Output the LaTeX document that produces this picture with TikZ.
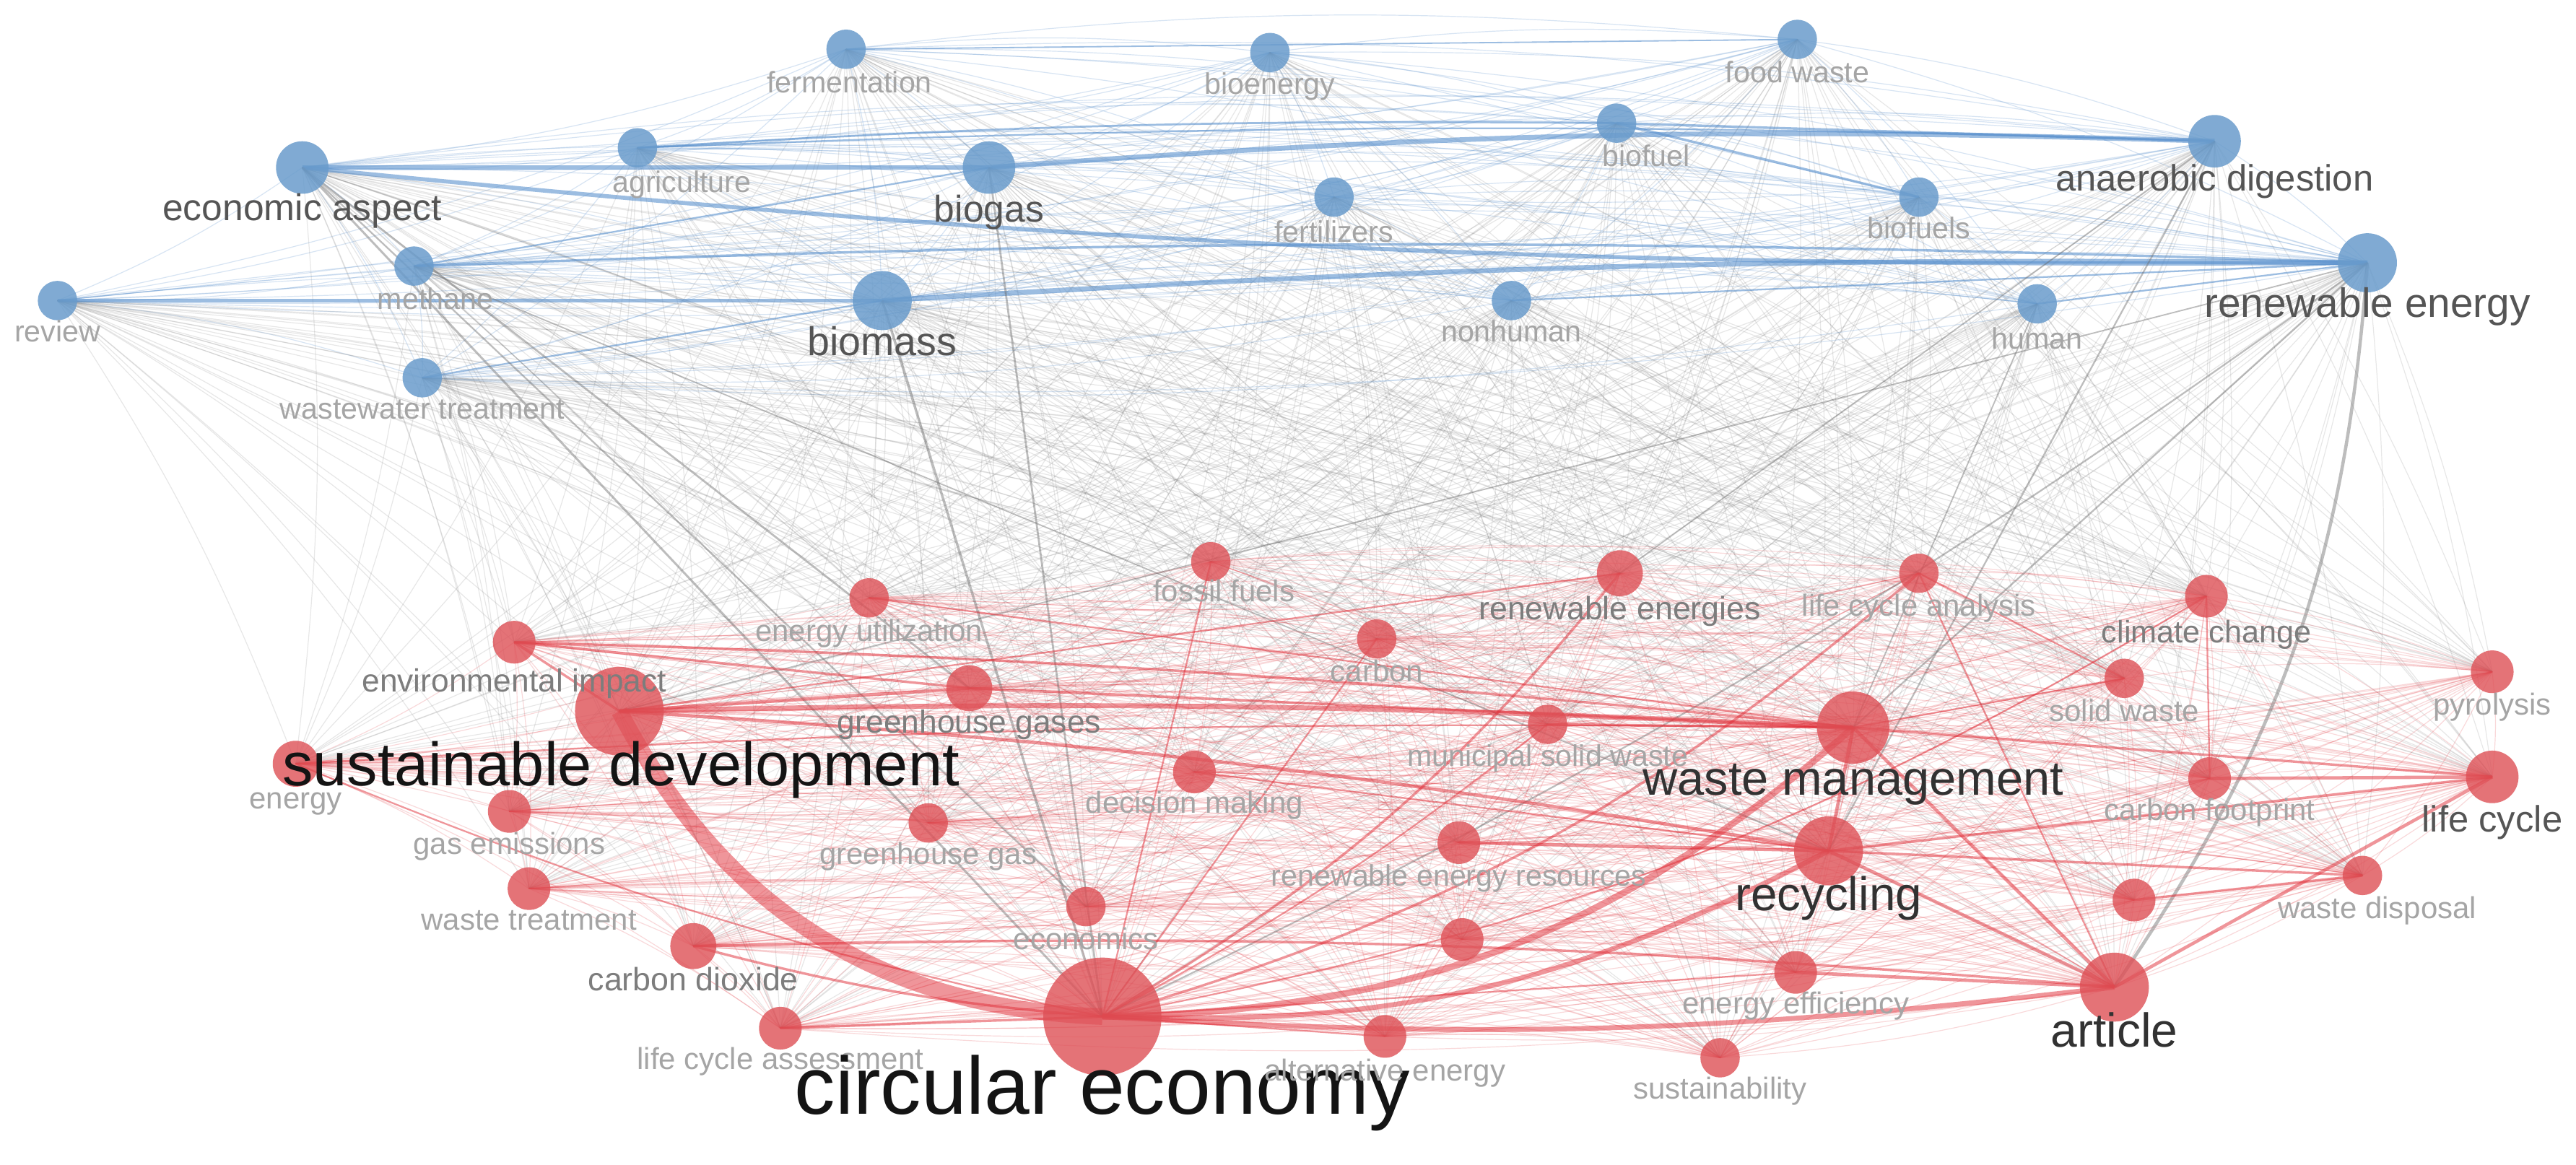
\documentclass[tikz,border=0pt]{standalone}
\usepackage{fontspec}
\setmainfont{Liberation Sans}
\pgfdeclarelayer{paper}
\pgfdeclarelayer{edges}
\pgfsetlayers{paper,edges,main}
\definecolor{nblue}{RGB}{106,156,204}
\definecolor{nred}{RGB}{222,80,86}
\definecolor{eblue}{RGB}{90,145,205}
\definecolor{ered}{RGB}{225,45,55}
\definecolor{egray}{RGB}{110,110,110}
\definecolor{tl}{RGB}{165,165,165}
\definecolor{tm}{RGB}{125,125,125}
\definecolor{td}{RGB}{85,85,85}
\definecolor{tb}{RGB}{50,50,50}
\definecolor{tk}{RGB}{20,20,20}
\tikzset{
  bnode/.style={circle,fill=nblue,fill opacity=0.85,inner sep=0pt,minimum size=#1*0.04cm},
  rnode/.style={circle,fill=nred,fill opacity=0.8,inner sep=0pt,minimum size=#1*0.04cm},
  lab/.style={font=\fontsize{#1}{#1}\selectfont,inner sep=0pt,text height=0.8em,text depth=0.2em},
}
\begin{document}
\begin{tikzpicture}[x=0.02cm,y=-0.02cm]
\begin{pgfonlayer}{paper}
\fill[white] (0,0) rectangle (1568,709);
\end{pgfonlayer}
\useasboundingbox (0,0) rectangle (1568,709);
% ---------- nodes: blue cluster
\node[bnode=12] (n1) at (515,30) {};
\node[bnode=12] (n2) at (773,32) {};
\node[bnode=12] (n3) at (1094,24) {};
\node[bnode=12] (n4) at (388,90) {};
\node[bnode=16] (n5) at (184,102) {};
\node[bnode=16] (n6) at (602,102) {};
\node[bnode=12] (n7) at (984,75) {};
\node[bnode=16] (n8) at (1348,86) {};
\node[bnode=12] (n9) at (812,120) {};
\node[bnode=12] (n10) at (1168,120) {};
\node[bnode=12] (n11) at (252,162) {};
\node[bnode=12] (n12) at (35,183) {};
\node[bnode=18] (n13) at (537,183) {};
\node[bnode=12] (n14) at (920,183) {};
\node[bnode=12] (n15) at (1240,185) {};
\node[bnode=18] (n16) at (1441,160) {};
\node[bnode=12] (n17) at (257,230) {};
% ---------- nodes: red cluster
\node[rnode=12] (n18) at (737,342) {};
\node[rnode=14] (n19) at (986,349) {};
\node[rnode=12] (n20) at (1168,349) {};
\node[rnode=13] (n21) at (1343,363) {};
\node[rnode=12] (n22) at (529,364) {};
\node[rnode=13] (n23) at (313,391) {};
\node[rnode=12] (n24) at (838,389) {};
\node[rnode=14] (n25) at (590,419) {};
\node[rnode=27] (n26) at (377,433) {};
\node[rnode=12] (n27) at (1293,413) {};
\node[rnode=13] (n28) at (1517,409) {};
\node[rnode=12] (n29) at (942,441) {};
\node[rnode=22] (n30) at (1128,443) {};
\node[rnode=14] (n31) at (180,465) {};
\node[rnode=13] (n32) at (727,470) {};
\node[rnode=13] (n33) at (1345,474) {};
\node[rnode=16] (n34) at (1517,473) {};
\node[rnode=13] (n35) at (310,494) {};
\node[rnode=12] (n36) at (565,501) {};
\node[rnode=13] (n37) at (888,513) {};
\node[rnode=21] (n38) at (1113,518) {};
\node[rnode=12] (n39) at (1438,533) {};
\node[rnode=13] (n40) at (322,541) {};
\node[rnode=12] (n41) at (661,552) {};
\node[rnode=13] (n42) at (1299,548) {};
\node[rnode=14] (n43) at (422,576) {};
\node[rnode=13] (n44) at (890,572) {};
\node[rnode=13] (n45) at (1093,592) {};
\node[rnode=21] (n46) at (1287,601) {};
\node[rnode=13] (n47) at (475,626) {};
\node[rnode=36] (n48) at (671,619) {};
\node[rnode=13] (n49) at (843,631) {};
\node[rnode=12] (n50) at (1047,644) {};
% ---------- background web of links
\begin{pgfonlayer}{edges}
\foreach \i in {1,...,49}{
  \pgfmathtruncatemacro\js{\i+1}
  \foreach \j in {\js,...,50}{
    \ifnum\i<18 \ifnum\j<18 \def\ec{eblue}\def\eo{0.24}\else\def\ec{egray}\def\eo{0.16}\fi\else\def\ec{ered}\def\eo{0.18}\fi
    \draw[draw=\ec,draw opacity=\eo,line width=0.3pt] (n\i.center) to[bend left=6] (n\j.center);
  }
}
% strong blue links
\foreach \a/\b/\w/\bd in {5/6/2.5/0,6/8/3/3,5/16/2.5/-3,13/16/3/2,12/13/2/0,11/16/1.5/2,4/7/1.2/2,7/10/1.5/0,7/8/1.5/0,1/3/0.8/0,17/13/1/0,14/16/1/0,15/16/1/0,11/6/1/0,4/8/1/2}{
  \pgfmathsetmacro\lw{\w*0.569}
  \draw[draw=eblue,draw opacity=0.6,line width=\lw pt] (n\a.center) to[bend left=\bd] (n\b.center);
}
% strong links between clusters
\foreach \a/\b/\w/\bd in {5/48/1.3/0,5/25/1.2/0,5/41/1/0,13/48/1.5/0,6/48/1.2/0,16/46/2/15,16/30/1/0,8/38/1/0,16/48/1/5,11/38/0.8/0,8/19/0.8/0,16/26/0.8/0,15/30/0.8/0}{
  \pgfmathsetmacro\lw{\w*0.569}
  \draw[draw=egray,draw opacity=0.45,line width=\lw pt] (n\a.center) to[bend left=\bd] (n\b.center);
}
% strong red links
\foreach \a/\b/\w/\bd in {26/48/10/-30,48/30/4/-20,48/38/3/-15,48/46/3/-5,26/30/3/2,26/38/2/3,30/46/2/0,38/46/2/0,30/34/1.5/0,46/34/2/0,33/34/2/0,38/39/1.5/0,48/19/1.5/-10,48/20/1.5/-12,48/21/1/-10,48/43/1.5/5,48/47/1.5/0,48/31/1/5,48/29/1/-5,26/25/2/0,23/30/1.5/2,26/19/1/0,31/30/1/2,43/46/1.5/3,25/30/1.5/0,29/30/1.5/0,48/45/1/0,48/49/1/0,20/27/1/0,42/39/1.5/0,37/38/2/0,18/48/1/0,24/48/1/0,45/46/2/0,30/38/2/0,23/25/1.5/0,26/23/1.5/0,21/33/1/0,20/46/1/0,38/34/1.5/0,30/27/1/0,22/30/1/0,32/38/1/0}{
  \pgfmathsetmacro\lw{\w*0.569}
  \draw[draw=ered,draw opacity=0.5,line width=\lw pt] (n\a.center) to[bend left=\bd] (n\b.center);
}
\end{pgfonlayer}
% ---------- labels
\node[lab=10.3,text=tl] (l1) at (517,51) {fermentation};
\node[lab=10.3,text=tl] (l2) at (773,52) {bioenergy};
\node[lab=10.3,text=tl] (l3) at (1094,45) {food waste};
\node[lab=10.3,text=tl] (l4) at (415,112) {agriculture};
\node[lab=12.9,text=td] (l5) at (184,129) {economic aspect};
\node[lab=12.9,text=td] (l6) at (602,130) {biogas};
\node[lab=10.3,text=tl] (l7) at (1002,96) {biofuel};
\node[lab=12.7,text=td] (l8) at (1348,111) {anaerobic digestion};
\node[lab=10.3,text=tl] (l9) at (812,142) {fertilizers};
\node[lab=10.3,text=tl] (l10) at (1168,140) {biofuels};
\node[lab=10.3,text=tl] (l11) at (265,183) {methane};
\node[lab=10.3,text=tl] (l12) at (35,203) {review};
\node[lab=13.9,text=td] (l13) at (537,211) {biomass};
\node[lab=10.3,text=tl] (l14) at (920,203) {nonhuman};
\node[lab=10.3,text=tl] (l15) at (1240,207) {human};
\node[lab=14.2,text=td] (l16) at (1441,188) {renewable energy};
\node[lab=10.3,text=tl] (l17) at (257,250) {wastewater treatment};
\node[lab=10.5,text=tl] (l18) at (745,361) {fossil fuels};
\node[lab=11.2,text=tm] (l19) at (986,372) {renewable energies};
\node[lab=10.5,text=tl] (l20) at (1168,370) {life cycle analysis};
\node[lab=10.8,text=tm] (l21) at (1343,386) {climate change};
\node[lab=10.5,text=tl] (l22) at (529,385) {energy utilization};
\node[lab=11.1,text=tm] (l23) at (313,416) {environmental impact};
\node[lab=10.5,text=tl] (l24) at (838,410) {carbon};
\node[lab=11.1,text=tm] (l25) at (590,441) {greenhouse gases};
\node[lab=21.2,text=tk] (l26) at (378,473) {sustainable development};
\node[lab=10.5,text=tl] (l27) at (1293,434) {solid waste};
\node[lab=10.5,text=tl] (l28) at (1517,430) {pyrolysis};
\node[lab=10.3,text=tl] (l29) at (942,461) {municipal solid waste};
\node[lab=16.7,text=tb] (l30) at (1128,479) {waste management};
\node[lab=10.5,text=tl] (l31) at (180,487) {energy};
\node[lab=10.5,text=tl] (l32) at (727,490) {decision making};
\node[lab=10.5,text=tl] (l33) at (1345,494) {carbon footprint};
\node[lab=12.7,text=td] (l34) at (1517,501) {life cycle};
\node[lab=10.5,text=tl] (l35) at (310,515) {gas emissions};
\node[lab=10.5,text=tl] (l36) at (565,521) {greenhouse gas};
\node[lab=10.3,text=tl] (l37) at (888,534) {renewable energy resources};
\node[lab=16.4,text=tb] (l38) at (1113,549) {recycling};
\node[lab=10.5,text=tl] (l39) at (1447,554) {waste disposal};
\node[lab=10.5,text=tl] (l40) at (322,561) {waste treatment};
\node[lab=10.5,text=tl] (l41) at (661,573) {economics};
\node[lab=11.2,text=tm] (l43) at (422,598) {carbon dioxide};
\node[lab=10.5,text=tl] (l45) at (1093,612) {energy efficiency};
\node[lab=16.5,text=tb] (l46) at (1287,632) {article};
\node[lab=10.5,text=tl] (l47) at (475,646) {life cycle assessment};
\node[lab=28.2,text=tk] (l48) at (671,673) {circular economy};
\node[lab=10.5,text=tl] (l49) at (843,653) {alternative energy};
\node[lab=10.5,text=tl] (l50) at (1047,664) {sustainability};
\end{tikzpicture}
\end{document}
